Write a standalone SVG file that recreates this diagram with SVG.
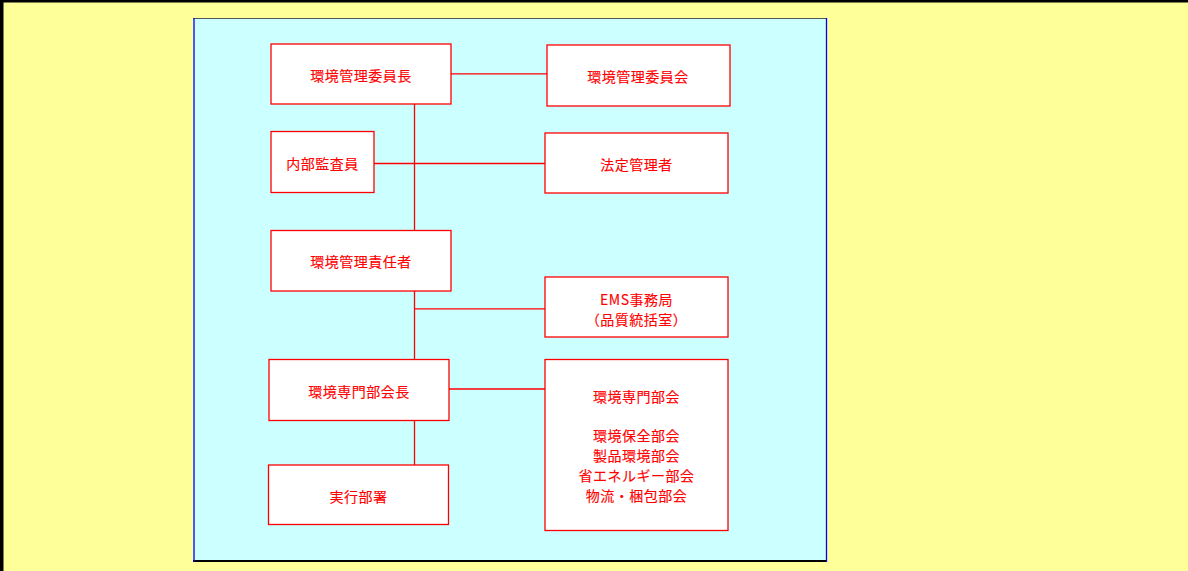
<svg xmlns="http://www.w3.org/2000/svg" width="1188" height="571" viewBox="0 0 1188 571">
<style>
.node rect{fill:#FFFFFF;stroke:#FF0000;stroke-width:1.3}
.node text{font-family:"Noto Sans CJK JP","Liberation Sans",sans-serif;font-size:14px;fill:#FF0000;stroke:#FF0000;stroke-width:0.15;text-anchor:middle;dominant-baseline:central;letter-spacing:0.5px}
#connectors line{stroke:#FF0000;stroke-width:1.3}
</style>
<rect x="0" y="0" width="1188" height="571" fill="#FFFF99"/>
<rect x="0" y="0" width="1188" height="2.5" fill="#000000"/>
<rect x="0" y="0" width="3.5" height="571" fill="#000000"/>
<g id="panel">
<rect x="193.5" y="18" width="633" height="543" fill="#CCFFFF"/>
<line x1="193" y1="18.5" x2="827" y2="18.5" stroke="#555555" stroke-width="1"/>
<line x1="193" y1="561" x2="827" y2="561" stroke="#000000" stroke-width="2"/>
<line x1="194" y1="18" x2="194" y2="562" stroke="#0000FF" stroke-width="1.3"/>
<line x1="826.5" y1="18" x2="826.5" y2="562" stroke="#0000FF" stroke-width="1.3"/>
</g>
<g id="connectors">
<line x1="414.5" y1="104" x2="414.5" y2="230"/>
<line x1="414.5" y1="291" x2="414.5" y2="359"/>
<line x1="414.5" y1="420" x2="414.5" y2="465"/>
<line x1="451" y1="73.8" x2="547" y2="73.8"/>
<line x1="374" y1="163.5" x2="545" y2="163.5"/>
<line x1="414.5" y1="308.8" x2="545" y2="308.8"/>
<line x1="449" y1="389" x2="545" y2="389"/>
</g>
<g id="n1" class="node"><rect x="271" y="44" width="180" height="60"/><text x="361" y="75">環境管理委員長</text></g>
<g id="n2" class="node"><rect x="547" y="45" width="183" height="61"/><text x="638" y="75.5">環境管理委員会</text></g>
<g id="n3" class="node"><rect x="271" y="131.5" width="103" height="61"/><text x="322.5" y="163">内部監査員</text></g>
<g id="n4" class="node"><rect x="545" y="133" width="183" height="60"/><text x="636.5" y="163.5">法定管理者</text></g>
<g id="n5" class="node"><rect x="271" y="230.5" width="180" height="60.5"/><text x="361" y="261">環境管理責任者</text></g>
<g id="n6" class="node"><rect x="545" y="277" width="183" height="60"/><text x="636.5" y="299">EMS事務局</text><text x="636.5" y="318.5">（品質統括室）</text></g>
<g id="n7" class="node"><rect x="269" y="359.5" width="180" height="61"/><text x="359" y="390.5">環境専門部会長</text></g>
<g id="n8" class="node"><rect x="268.5" y="465" width="180" height="59.5"/><text x="358.5" y="495.5">実行部署</text></g>
<g id="n9" class="node"><rect x="545" y="359.5" width="183" height="171"/><text x="636.5" y="396">環境専門部会</text><text x="636.5" y="435">環境保全部会</text><text x="636.5" y="455">製品環境部会</text><text x="636.5" y="475">省エネルギー部会</text><text x="636.5" y="495">物流・梱包部会</text></g>
</svg>
